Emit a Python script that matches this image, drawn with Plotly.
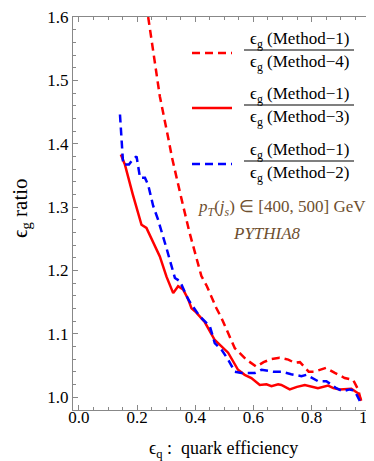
# plot.py
# Rapport d'efficacite des gluons selon la methode

import plotly.graph_objects as go

# Methode-1 / Methode-4 (tirets rouges)
eq_m4 = [0.238, 0.278, 0.307, 0.320, 0.352, 0.380, 0.421, 0.440, 0.472, 0.490,
         0.536, 0.576, 0.610, 0.635, 0.662, 0.690, 0.720, 0.742, 0.760, 0.790,
         0.810, 0.850, 0.880, 0.914, 0.943, 0.960, 0.971]
ratio_m4 = [1.600, 1.475, 1.409, 1.378, 1.314, 1.260, 1.191, 1.175, 1.141, 1.125,
            1.077, 1.059, 1.048, 1.055, 1.060, 1.062, 1.059, 1.054, 1.055, 1.040,
            1.040, 1.046, 1.038, 1.030, 1.027, 1.012, 0.993]

# Methode-1 / Methode-3 (trait plein rouge)
eq_m3 = [0.144, 0.158, 0.185, 0.215, 0.232, 0.260, 0.278, 0.301, 0.324, 0.341,
         0.358, 0.376, 0.387, 0.400, 0.433, 0.467, 0.490, 0.513, 0.547, 0.570,
         0.593, 0.622, 0.645, 0.662, 0.685, 0.696, 0.725, 0.750, 0.777, 0.800,
         0.822, 0.857, 0.875, 0.897, 0.937, 0.960, 0.971]
ratio_m3 = [1.383, 1.367, 1.320, 1.272, 1.267, 1.238, 1.222, 1.190, 1.164, 1.175,
            1.170, 1.154, 1.140, 1.135, 1.118, 1.090, 1.080, 1.070, 1.043, 1.035,
            1.030, 1.019, 1.020, 1.017, 1.020, 1.019, 1.012, 1.016, 1.019, 1.016,
            1.014, 1.018, 1.014, 1.012, 1.013, 1.006, 0.994]

# Methode-1 / Methode-2 (tirets bleus)
eq_m2 = [0.141, 0.146, 0.152, 0.172, 0.185, 0.198, 0.210, 0.227, 0.238, 0.255,
         0.272, 0.301, 0.330, 0.347, 0.358, 0.376, 0.387, 0.416, 0.450, 0.467,
         0.490, 0.513, 0.536, 0.559, 0.605, 0.628, 0.668, 0.696, 0.730, 0.765,
         0.782, 0.822, 0.851, 0.885, 0.908, 0.931, 0.948, 0.966]
ratio_m2 = [1.446, 1.410, 1.367, 1.367, 1.375, 1.380, 1.346, 1.346, 1.335, 1.302,
            1.280, 1.235, 1.188, 1.183, 1.172, 1.154, 1.146, 1.127, 1.112, 1.085,
            1.075, 1.059, 1.040, 1.038, 1.038, 1.043, 1.040, 1.040, 1.036, 1.033,
            1.035, 1.025, 1.025, 1.014, 1.009, 1.012, 1.010, 0.994]

x_ticks = [0.0, 0.2, 0.4, 0.6, 0.8, 1.0]
y_ticks = [1.0, 1.1, 1.2, 1.3, 1.4, 1.5, 1.6]

FONT = "Liberation Serif"
BROWN = "#6e4f2f"
EPS = "\u03f5"

# zone de trace en pixels (gauche, droite, haut, bas)
L, R, T, B = 65, 366, 9, 402


def px(xp):
    return (xp - L) / (R - L)


def py(yp):
    return (B - yp) / (B - T)


def label(x, y, text, size, color="black", angle=0):
    return dict(x=px(x), y=py(y), xref="paper", yref="paper", showarrow=False,
                xanchor="center", yanchor="middle", text=text, textangle=angle,
                font=dict(size=size, color=color, family=FONT))


fig = go.Figure()

fig.add_trace(go.Scatter(x=eq_m4, y=ratio_m4, mode="lines",
                         line=dict(color="#ff0000", width=2.5, dash="8px,5px")))
fig.add_trace(go.Scatter(x=eq_m3, y=ratio_m3, mode="lines",
                         line=dict(color="#ff0000", width=2.5)))
fig.add_trace(go.Scatter(x=eq_m2, y=ratio_m2, mode="lines",
                         line=dict(color="#0000ff", width=2.5, dash="8px,5px")))

# Legende dessinee a la main (fractions)
legend_rows = [
    (45, "4", dict(color="#ff0000", width=2.5, dash="8px,5px")),
    (100, "3", dict(color="#ff0000", width=2.5)),
    (156, "2", dict(color="#0000ff", width=2.5, dash="8px,5px")),
]
shapes = []
annotations = []
for ypix, meth, ln in legend_rows:
    shapes.append(dict(type="line", xref="paper", yref="paper",
                       x0=px(184), x1=px(224), y0=py(ypix), y1=py(ypix), line=ln))
    shapes.append(dict(type="line", xref="paper", yref="paper",
                       x0=px(236), x1=px(346), y0=py(ypix - 3), y1=py(ypix - 3),
                       line=dict(color="black", width=1.2)))
    annotations.append(label(291, ypix - 13, f"{EPS}<sub>g</sub> (Method\u22121)", 17))
    annotations.append(label(291, ypix + 10, f"{EPS}<sub>g</sub> (Method\u2212{meth})", 17))

annotations.append(label(274, 200,
                         "<i>p</i><sub><i>T</i></sub>(<i>j</i><sub><i>s</i></sub>)"
                         " \u2208 [400, 500] GeV", 17, BROWN))
annotations.append(label(259, 225, "<i>PYTHIA8</i>", 17, BROWN))

# Titres des axes
annotations.append(label(215, 441, f"{EPS}<sub>q</sub> :  quark efficiency", 18))
annotations.append(label(13, 200, f"{EPS}<sub>g</sub> ratio", 21, angle=-90))

axis_style = dict(showline=True, linecolor="#888888", linewidth=1, mirror="ticks",
                  ticks="inside", ticklen=5, tickcolor="#888888", showgrid=False,
                  zeroline=False, automargin=False, ticklabeloverflow="allow",
                  tickfont=dict(size=17, color="black", family=FONT))

fig.update_layout(
    width=374, height=461,
    margin=dict(l=L, r=374 - R, t=T, b=461 - B, autoexpand=False),
    paper_bgcolor="white", plot_bgcolor="white",
    showlegend=False,
    shapes=shapes,
    annotations=annotations,
    xaxis=dict(range=[-0.0206, 1.0148], tickvals=x_ticks,
               ticktext=[f"{v:.1f}" for v in x_ticks], ticklabelstandoff=-8,
               minor=dict(ticks="inside", dtick=0.05, ticklen=3, tickcolor="#888888"),
               **axis_style),
    yaxis=dict(range=[0.9795, 1.6], tickvals=y_ticks,
               ticktext=[f"{v:.1f}" for v in y_ticks],
               minor=dict(ticks="inside", dtick=0.02, ticklen=3, tickcolor="#888888"),
               **axis_style),
)

fig.write_html("out.html")
